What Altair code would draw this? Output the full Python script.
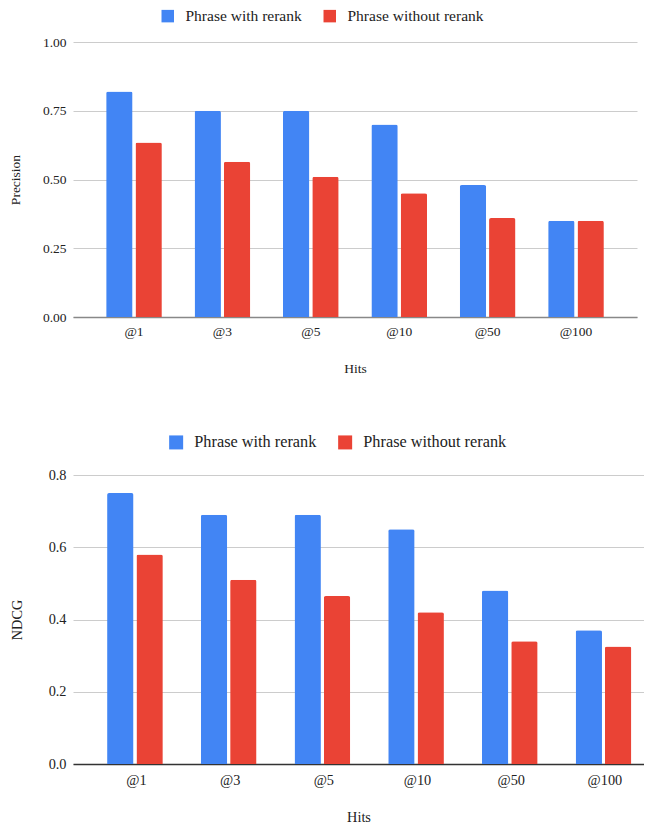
import altair as alt
import pandas as pd

hits = ["@1", "@3", "@5", "@10", "@50", "@100"]
series = ["Phrase with rerank", "Phrase without rerank"]
colors = ["#4285F4", "#EA4335"]

precision_with = [0.82, 0.75, 0.75, 0.70, 0.48, 0.35]
precision_without = [0.635, 0.565, 0.51, 0.45, 0.36, 0.35]
ndcg_with = [0.75, 0.69, 0.69, 0.65, 0.48, 0.37]
ndcg_without = [0.58, 0.51, 0.465, 0.42, 0.34, 0.325]

precision_ticks = [0.0, 0.25, 0.5, 0.75, 1.0]
ndcg_ticks = [0.0, 0.2, 0.4, 0.6, 0.8]

FONT = "Liberation Serif"


def make_df(a, b):
    rows = []
    for h, v in zip(hits, a):
        rows.append({"hit": h, "series": series[0], "value": v})
    for h, v in zip(hits, b):
        rows.append({"hit": h, "series": series[1], "value": v})
    return pd.DataFrame(rows)


def panel(df, ytitle, ticks, fmt, width, height, fs, lfs, sym, legx, legy,
          pi, po, align, xlabpad, xtitlepad, ytitlepad, domain_color):
    return alt.Chart(df).mark_bar(
        cornerRadiusTopLeft=2, cornerRadiusTopRight=2
    ).encode(
        x=alt.X("hit:N", sort=hits, title="Hits",
                scale=alt.Scale(paddingInner=pi, paddingOuter=po, align=align),
                axis=alt.Axis(labelAngle=0, ticks=False, labelFontSize=fs,
                              titleFontSize=fs, labelPadding=xlabpad,
                              titlePadding=xtitlepad, domainColor=domain_color,
                              domainWidth=1.5, grid=False,
                              labelFont=FONT, titleFont=FONT,
                              labelColor="#222", titleColor="#222",
                              titleFontWeight="normal")),
        xOffset=alt.XOffset("series:N", sort=series,
                            scale=alt.Scale(paddingInner=0.1)),
        y=alt.Y("value:Q", title=ytitle,
                scale=alt.Scale(domain=[ticks[0], ticks[-1]], nice=False),
                axis=alt.Axis(values=ticks, format=fmt, ticks=False,
                              domain=False, labelFontSize=fs,
                              titleFontSize=fs, labelPadding=7,
                              titlePadding=ytitlepad, gridColor="#cccccc",
                              labelFont=FONT, titleFont=FONT,
                              labelColor="#222", titleColor="#222",
                              titleFontWeight="normal")),
        color=alt.Color("series:N", sort=series,
                        scale=alt.Scale(domain=series, range=colors),
                        legend=alt.Legend(orient="none", legendX=legx,
                                          legendY=legy, direction="horizontal",
                                          title=None, symbolType="square",
                                          symbolSize=sym, symbolStrokeWidth=0,
                                          labelFont=FONT,
                                          labelFontSize=lfs, labelOffset=10,
                                          columnPadding=20, padding=0,
                                          labelColor="#222")),
    ).properties(width=width, height=height)


top = panel(make_df(precision_with, precision_without), "Precision",
            precision_ticks, ".2f", 564, 275, 13.5, 15.5, 156, 87, -34,
            0.37, 0.375, 0.5, 7, 24, 20, "#888888")
bottom = panel(make_df(ndcg_with, ndcg_without), "NDCG",
               ndcg_ticks, ".1f", 571, 289, 14.3, 16.3, 196, 95, -41,
               0.374, 0.234, 0.778, 9, 23, 24, "#333333")

chart = alt.vconcat(top, bottom, spacing=158, bounds="flush").resolve_legend(
    color="independent"
).resolve_scale(color="independent").properties(
    padding={"left": 0, "top": 0, "right": 0, "bottom": 0}
).configure(font=FONT).configure_view(stroke=None)

chart.save("out.html", embed_options={"renderer": "svg", "actions": False})
